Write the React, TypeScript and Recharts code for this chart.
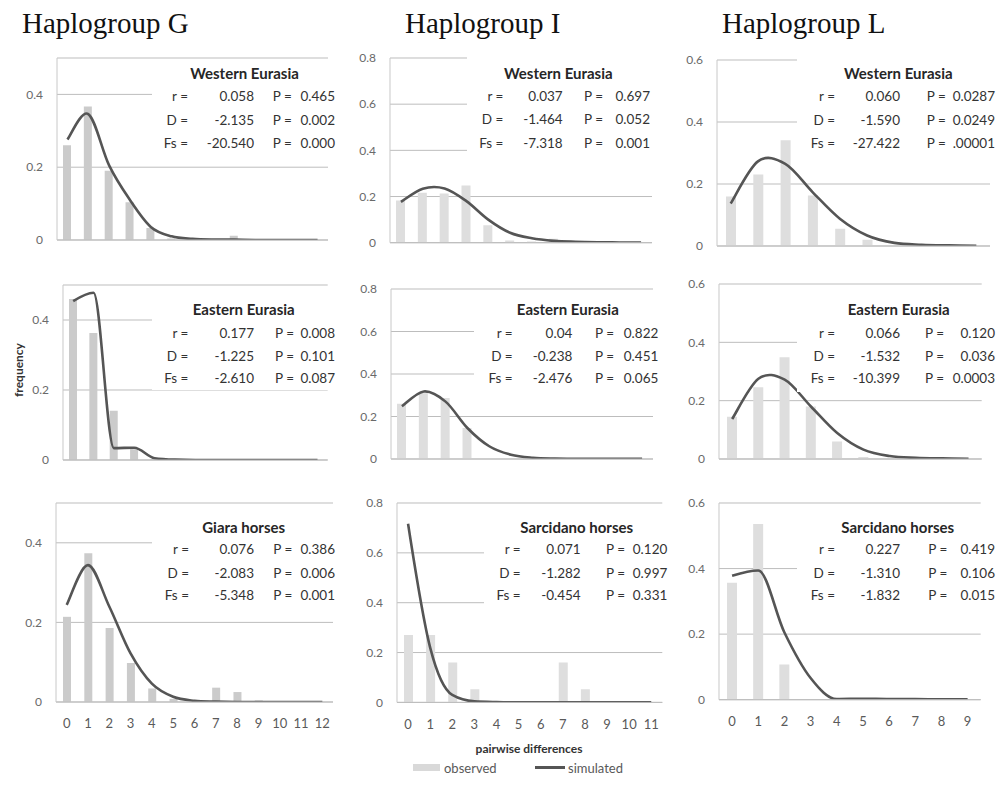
import React from 'react';
import { ComposedChart, Bar, Line, XAxis, YAxis, CartesianGrid } from 'recharts';

// ---------- categories ----------
const catsG = ['0', '1', '2', '3', '4', '5', '6', '7', '8', '9', '10', '11', '12'];
const catsI = ['0', '1', '2', '3', '4', '5', '6', '7', '8', '9', '10', '11'];
const catsL = ['0', '1', '2', '3', '4', '5', '6', '7', '8', '9'];

// ---------- observed / simulated ----------
const gWestObs = [0.26, 0.367, 0.19, 0.104, 0.033, 0.004, 0.001, 0.003, 0.012, 0, 0, 0, 0];
const gWestSim = [0.276, 0.346, 0.205, 0.11, 0.036, 0.01, 0.003, 0.001, 0.001, 0, 0, 0, 0];
const iWestObs = [0.183, 0.216, 0.213, 0.248, 0.075, 0.01, 0.005, 0.017, 0.003, 0, 0, 0];
const iWestSim = [0.177, 0.234, 0.235, 0.18, 0.1, 0.043, 0.019, 0.008, 0.004, 0.002, 0.001, 0.001];
const lWestObs = [0.16, 0.231, 0.341, 0.163, 0.056, 0.02, 0.003, 0, 0, 0];
const lWestSim = [0.137, 0.273, 0.265, 0.174, 0.088, 0.034, 0.01, 0.004, 0.002, 0.001];

const gEastObs = [0.46, 0.363, 0.141, 0.031, 0.003, 0, 0, 0, 0, 0, 0, 0, 0];
const gEastSim = [0.454, 0.478, 0.034, 0.035, 0.005, 0.001, 0, 0, 0, 0, 0, 0, 0];
const iEastObs = [0.26, 0.31, 0.287, 0.146, 0.003, 0, 0, 0, 0, 0, 0, 0];
const iEastSim = [0.248, 0.318, 0.27, 0.146, 0.06, 0.02, 0.006, 0.002, 0.001, 0.001, 0.001, 0.001];
const lEastObs = [0.145, 0.246, 0.349, 0.18, 0.06, 0.007, 0, 0, 0, 0];
const lEastSim = [0.137, 0.275, 0.272, 0.18, 0.089, 0.032, 0.01, 0.004, 0.002, 0.001];

const gGiaraObs = [0.214, 0.374, 0.186, 0.098, 0.034, 0.008, 0, 0.036, 0.025, 0.004, 0, 0, 0];
const gGiaraSim = [0.244, 0.344, 0.24, 0.122, 0.046, 0.013, 0.003, 0.001, 0, 0, 0, 0, 0];
const iSarcObs = [0.27, 0.27, 0.16, 0.053, 0, 0, 0, 0.16, 0.053, 0, 0, 0];
const iSarcSim = [0.717, 0.22, 0.03, 0.004, 0.001, 0, 0, 0, 0, 0, 0, 0];
const lSarcObs = [0.357, 0.536, 0.107, 0, 0, 0, 0, 0, 0, 0];
const lSarcSim = [0.378, 0.394, 0.205, 0.066, 0.002, 0.003, 0.002, 0.002, 0.001, 0.001];

// ---------- axis ticks ----------
const ticksG = [0, 0.2, 0.4];
const ticksI = [0, 0.2, 0.4, 0.6, 0.8];
const ticksL = [0, 0.2, 0.4, 0.6];

// ---------- texts ----------
const columnTitles = ['Haplogroup G', 'Haplogroup I', 'Haplogroup L'];
const panelTitles = [
  'Western Eurasia', 'Western Eurasia', 'Western Eurasia',
  'Eastern Eurasia', 'Eastern Eurasia', 'Eastern Eurasia',
  'Giara horses', 'Sarcidano horses', 'Sarcidano horses',
];
const statLabels = ['r =', 'D =', 'Fs ='];
const statValues = [
  ['0.058', '-2.135', '-20.540'],
  ['0.037', '-1.464', '-7.318'],
  ['0.060', '-1.590', '-27.422'],
  ['0.177', '-1.225', '-2.610'],
  ['0.04', '-0.238', '-2.476'],
  ['0.066', '-1.532', '-10.399'],
  ['0.076', '-2.083', '-5.348'],
  ['0.071', '-1.282', '-0.454'],
  ['0.227', '-1.310', '-1.832'],
];
const pValues = [
  ['0.465', '0.002', '0.000'],
  ['0.697', '0.052', '0.001'],
  ['0.0287', '0.0249', '.00001'],
  ['0.008', '0.101', '0.087'],
  ['0.822', '0.451', '0.065'],
  ['0.120', '0.036', '0.0003'],
  ['0.386', '0.006', '0.001'],
  ['0.120', '0.997', '0.331'],
  ['0.419', '0.106', '0.015'],
];
const yAxisTitle = 'frequency';
const xAxisTitle = 'pairwise differences';
const legendLabels = ['observed', 'simulated'];

// Excel-like smoothed line (Catmull-Rom Bezier)
const excelSmooth: any = (context: any) => {
  let pts: number[][] = [];
  return {
    areaStart() {},
    areaEnd() {},
    lineStart() { pts = []; },
    point(x: number, y: number) { pts.push([+x, +y]); },
    lineEnd() {
      const n = pts.length;
      if (!n) return;
      context.moveTo(pts[0][0], pts[0][1]);
      for (let i = 0; i < n - 1; i++) {
        const p0 = pts[i - 1] || pts[i];
        const p1 = pts[i];
        const p2 = pts[i + 1];
        const p3 = pts[i + 2] || p2;
        context.bezierCurveTo(
          p1[0] + (p2[0] - p0[0]) / 6, p1[1] + (p2[1] - p0[1]) / 6,
          p2[0] - (p3[0] - p1[0]) / 6, p2[1] - (p3[1] - p1[1]) / 6,
          p2[0], p2[1]
        );
      }
    },
  };
};

type PanelCfg = {
  cats: string[]; obs: number[]; sim: number[]; max: number; ticks: number[];
  rect: [number, number, number, number]; barSize: number; barColor: string;
  curve: any; showX: boolean;
};

const G_BAR = '#cbcbcb';
const IL_BAR = '#dedede';

const panels: PanelCfg[] = [
  { cats: catsG, obs: gWestObs, sim: gWestSim, max: 0.5, ticks: ticksG, rect: [57, 58, 328, 240], barSize: 8, barColor: G_BAR, curve: excelSmooth, showX: false },
  { cats: catsI, obs: iWestObs, sim: iWestSim, max: 0.8, ticks: ticksI, rect: [390, 58.3, 652, 243], barSize: 9, barColor: IL_BAR, curve: excelSmooth, showX: false },
  { cats: catsL, obs: lWestObs, sim: lWestSim, max: 0.6, ticks: ticksL, rect: [717, 60, 990, 246], barSize: 10, barColor: IL_BAR, curve: excelSmooth, showX: false },
  { cats: catsG, obs: gEastObs, sim: gEastSim, max: 0.5, ticks: ticksG, rect: [63.3, 285, 328, 460], barSize: 8, barColor: G_BAR, curve: 'monotone', showX: false },
  { cats: catsI, obs: iEastObs, sim: iEastSim, max: 0.8, ticks: ticksI, rect: [391, 289.3, 653, 459.3], barSize: 9, barColor: IL_BAR, curve: excelSmooth, showX: false },
  { cats: catsL, obs: lEastObs, sim: lEastSim, max: 0.6, ticks: ticksL, rect: [719.3, 284.3, 982, 459.3], barSize: 10, barColor: IL_BAR, curve: excelSmooth, showX: false },
  { cats: catsG, obs: gGiaraObs, sim: gGiaraSim, max: 0.5, ticks: ticksG, rect: [56, 502.7, 333, 701.7], barSize: 8, barColor: G_BAR, curve: excelSmooth, showX: true },
  { cats: catsI, obs: iSarcObs, sim: iSarcSim, max: 0.8, ticks: ticksI, rect: [396.7, 503.3, 662, 702.7], barSize: 9, barColor: IL_BAR, curve: 'monotone', showX: true },
  { cats: catsL, obs: lSarcObs, sim: lSarcSim, max: 0.6, ticks: ticksL, rect: [719.3, 503.3, 981, 700], barSize: 10, barColor: IL_BAR, curve: 'monotone', showX: true },
];

// text box layout: [boxX0, boxY0, boxX1, boxY1, titleCx, titleCy, labelRight, valueRight, pStart, pRight, row0, row1, row2]
const textLayout = [
  [152, 60, 342, 160, 244.5, 72.7, 188, 254, 272.7, 335, 96, 119.7, 142.7],
  [467, 56, 670, 160, 558.3, 72.7, 503.3, 562.7, 584, 650, 96, 119.3, 142.7],
  [797, 56, 1002, 160, 898.3, 72.7, 835, 900, 926.7, 995, 96, 120, 142.7],
  [152, 292, 342, 390, 243.7, 309.3, 188.3, 254, 275, 335, 332.7, 355.7, 378.3],
  [474, 294, 670, 392, 567.8, 309, 512.7, 572.3, 595, 658.3, 332.7, 356, 378.3],
  [797, 292, 1002, 392, 898.7, 309, 835, 900, 925, 995, 332.7, 356, 378.3],
  [152, 512, 342, 610, 243.7, 526.7, 189, 254, 273.3, 335, 549.3, 572.7, 595],
  [484, 512, 672, 614, 576.7, 526.7, 520.7, 580.7, 606, 667.3, 549.3, 572.7, 595],
  [797, 512, 1002, 614, 897.8, 526.7, 835, 900, 928.3, 995, 549.3, 572.7, 595],
];
const titleX = [22, 405, 722];

const YW = 45;
const XH = 30;
const MT = 10;
const MR = 10;
const SANS = 'Lato, "Open Sans", sans-serif';

function Panel({ cfg }: { cfg: PanelCfg }) {
  const [x0, y0, x1, y1] = cfg.rect;
  const width = x1 - x0 + YW + MR;
  const height = y1 - y0 + MT + XH;
  const data = cfg.cats.map((c, i) => ({ x: c, observed: cfg.obs[i], simulated: cfg.sim[i] }));
  return (
    <div style={{ position: 'absolute', left: x0 - YW, top: y0 - MT, width, height }}>
      <ComposedChart width={width} height={height} data={data} margin={{ top: MT, right: MR, left: 0, bottom: 0 }} barGap={0}>
        <CartesianGrid vertical={false} stroke="#bdbdbd" strokeWidth={1} />
        <XAxis
          dataKey="x"
          height={XH}
          interval={0}
          tickLine={false}
          tickSize={0}
          tickMargin={17}
          axisLine={{ stroke: '#bdbdbd' }}
          tick={cfg.showX ? { fontSize: 13, fill: '#5a5a5a', fontFamily: SANS } : false}
        />
        <YAxis
          width={YW}
          domain={[0, cfg.max]}
          ticks={cfg.ticks}
          type="number"
          allowDataOverflow
          tickLine={false}
          tickSize={0}
          tickMargin={14}
          axisLine={{ stroke: '#c8c8c8' }}
          tick={{ fontSize: 12, fill: '#6a6a6a', fontFamily: SANS }}
        />
        <Bar dataKey="observed" fill={cfg.barColor} barSize={cfg.barSize} isAnimationActive={false} />
        <Line dataKey="simulated" type={cfg.curve} stroke="#555555" strokeWidth={2.6} dot={false} activeDot={false} isAnimationActive={false} />
      </ComposedChart>
    </div>
  );
}

export default function App() {
  return (
    <div style={{ position: 'absolute', left: 0, top: 0, width: 1004, height: 789, background: '#ffffff', overflow: 'hidden' }}>
      {panels.map((p, i) => (
        <Panel key={i} cfg={p} />
      ))}
      <svg width={1004} height={789} style={{ position: 'absolute', left: 0, top: 0, pointerEvents: 'none' }}>
        {columnTitles.map((t, i) => (
          <text key={t} x={titleX[i]} y={33} fontFamily='"Liberation Serif", "DejaVu Serif", serif' fontSize={29} fill="#111">
            {t}
          </text>
        ))}
        {textLayout.map((L, i) => (
          <g key={i} fontFamily={SANS}>
            <rect x={L[0]} y={L[1]} width={L[2] - L[0]} height={L[3] - L[1]} fill="#ffffff" />
            <text x={L[4]} y={L[5]} textAnchor="middle" dominantBaseline="central" fontSize={15} fontWeight="bold" fill="#262626">
              {panelTitles[i]}
            </text>
            {statLabels.map((lab, r) => (
              <g key={r} fontSize={13.5} fill="#333333">
                <text x={L[6]} y={L[10 + r]} textAnchor="end" dominantBaseline="central">{lab}</text>
                <text x={L[7]} y={L[10 + r]} textAnchor="end" dominantBaseline="central">{statValues[i][r]}</text>
                <text x={L[8]} y={L[10 + r]} textAnchor="start" dominantBaseline="central">P =</text>
                <text x={L[9]} y={L[10 + r]} textAnchor="end" dominantBaseline="central">{pValues[i][r]}</text>
              </g>
            ))}
          </g>
        ))}
        <text x={18} y={370} transform="rotate(-90 18 370)" textAnchor="middle" dominantBaseline="central" fontFamily={SANS} fontSize={12} fontWeight="bold" fill="#333">
          {yAxisTitle}
        </text>
        <text x={529} y={748} textAnchor="middle" dominantBaseline="central" fontFamily={SANS} fontSize={12} fontWeight="bold" fill="#333">
          {xAxisTitle}
        </text>
        <rect x={413} y={764} width={27} height={7} fill="#d9d9d9" />
        <text x={444} y={767.5} dominantBaseline="central" fontFamily={SANS} fontSize={13} fill="#595959">{legendLabels[0]}</text>
        <line x1={535} y1={767.5} x2={565} y2={767.5} stroke="#555555" strokeWidth={3} />
        <text x={568} y={767.5} dominantBaseline="central" fontFamily={SANS} fontSize={13} fill="#595959">{legendLabels[1]}</text>
      </svg>
    </div>
  );
}
